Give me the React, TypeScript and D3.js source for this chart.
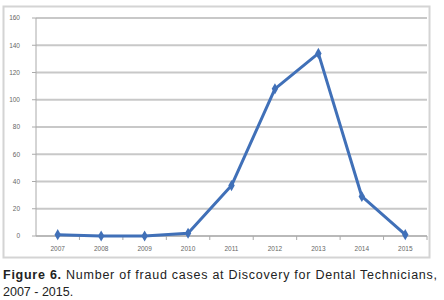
import * as d3 from "d3";

const years = ["2007", "2008", "2009", "2010", "2011", "2012", "2013", "2014", "2015"];
const fraudCases = [1, 0, 0, 2, 37, 108, 134, 29, 1];
const yTicks = [0, 20, 40, 60, 80, 100, 120, 140, 160];

function App() {
    const W = 444;
    const H = 300;
    const margin = { left: 36, right: 17, top: 18, bottom: 64 };
    const innerW = W - margin.left - margin.right;
    const innerH = H - margin.top - margin.bottom;

    const x = d3.scaleBand().domain(years).range([0, innerW]);
    const y = d3.scaleLinear().domain([0, 160]).range([innerH, 0]);

    const line = d3.line<number>()
        .x((_, i) => (x(years[i]) as number) + x.bandwidth() / 2)
        .y(d => y(d));

    const diamond = d3.symbol().type(d3.symbolDiamond).size(36)();

    return (
        <svg width={W} height={H} style={{ position: "absolute", left: 0, top: 0, fontFamily: "Liberation Sans, Arial, sans-serif" }}>
            <rect x={0} y={0} width={W} height={H} fill="white" />
            {/* chart frame */}
            <rect x={3.5} y={6.5} width={426} height={251} fill="white" stroke="#d4d4d4" strokeWidth={2} />
            <g transform={`translate(${margin.left},${margin.top})`}>
                {yTicks.map(t => (
                    <g key={t}>
                        <line x1={0} x2={innerW} y1={y(t)} y2={y(t)} stroke="#c8c8c8" strokeWidth={1.8} />
                        <line x1={-4} x2={0} y1={y(t)} y2={y(t)} stroke="#aaa" />
                        <text x={-16} y={y(t)} dy="0.35em" textAnchor="end" fontSize={6.5} fill="#666">{t}</text>
                    </g>
                ))}
                <line x1={0} x2={0} y1={0} y2={innerH} stroke="#aaa" />
                <line x1={0} x2={innerW} y1={innerH} y2={innerH} stroke="#aaa" />
                {years.map((yr, i) => (
                    <g key={yr}>
                        <line x1={(x(yr) as number) + x.bandwidth()} x2={(x(yr) as number) + x.bandwidth()} y1={innerH} y2={innerH + 4} stroke="#aaa" />
                        <text x={(x(yr) as number) + x.bandwidth() / 2} y={innerH + 15} textAnchor="middle" fontSize={6.5} fill="#666">{yr}</text>
                    </g>
                ))}
                <path d={line(fraudCases) || ""} fill="none" stroke="#4070b8" strokeWidth={3} strokeLinejoin="round" />
                {fraudCases.map((v, i) => (
                    <path key={i} d={diamond || ""} transform={`translate(${(x(years[i]) as number) + x.bandwidth() / 2},${y(v)})`} fill="#4070b8" />
                ))}
            </g>
            <text x={3} y={279} fontSize={12.5} fill="#222" textLength={434} lengthAdjust="spacing">
                <tspan fontWeight="bold">Figure 6.</tspan> Number of fraud cases at Discovery for Dental Technicians,
            </text>
            <text x={3} y={296} fontSize={12.5} fill="#222">2007 - 2015.</text>
        </svg>
    );
}

export default App;
